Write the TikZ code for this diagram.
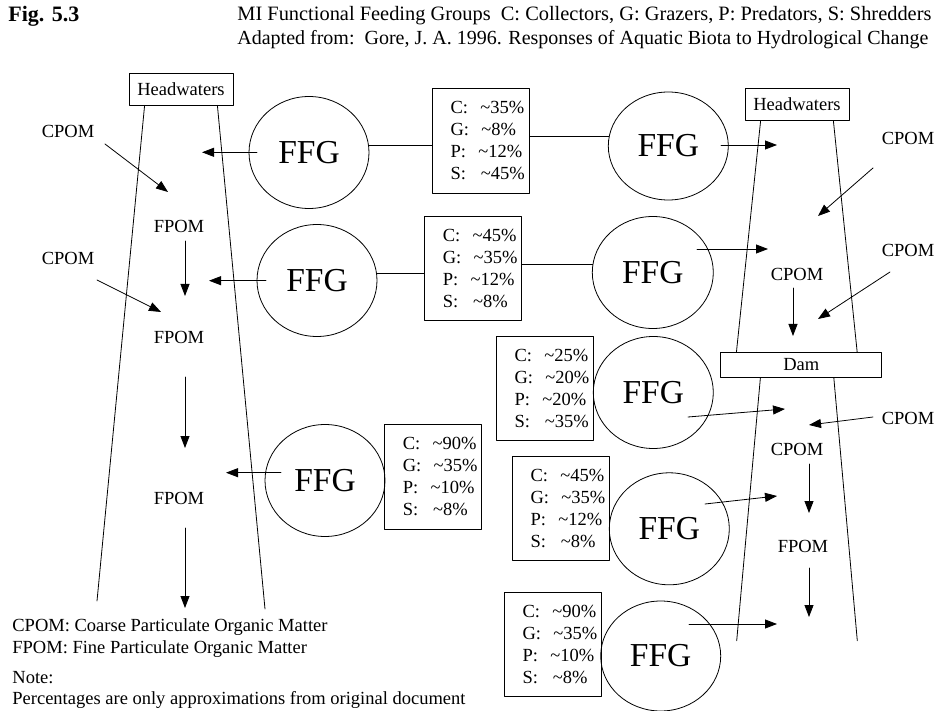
\documentclass[tikz,border=0pt]{standalone}
\usepackage{fontspec}
\setmainfont{Liberation Serif}
\usetikzlibrary{shapes.geometric,arrows.meta}
\usetikzlibrary{positioning}

\begin{document}
\begin{tikzpicture}[x=1pt,y=-1pt,line cap=round,line join=round,line width=0.8pt,
		>={Triangle[length=12pt,width=9pt]},
		every node/.style={font=\fontsize{18.5}{22}\selectfont},
		lbl/.style={inner sep=0pt},
		tag/.style={draw,inner sep=0pt,minimum height=32pt},
		ffg/.style={draw,ellipse,minimum width=120pt,minimum height=112pt,
			font=\fontsize{33.5}{38}\selectfont},
		pct/.style={draw,align=left,inner ysep=0pt,inner xsep=18pt,text width=61pt,minimum height=105pt},
		flow/.style={->}]
	\useasboundingbox (0,0) rectangle (943,711);
	% titolo
	\node[lbl,anchor=west,font=\fontsize{22}{26}\selectfont\bfseries] (fig) at (8,16) {Fig. 5.3};
	\node[lbl,anchor=west,font=\fontsize{20.4}{24}\selectfont] (tit1) at (237,16) {MI Functional Feeding Groups\ \ C: Collectors, G: Grazers, P: Predators, S: Shredders};
	\node[lbl,anchor=west,font=\fontsize{20}{24}\selectfont] (tit2) at (237,40) {Adapted from:\ \ Gore, J. A. 1996. Responses of Aquatic Biota to Hydrological Change};

	%% fiume naturale (sinistra)
	\node[tag,minimum width=104pt] (hwL) at (181,89) {Headwaters};
	\coordinate (bankLa) at (97,601);
	\coordinate (bankLb) at (265,609);
	\draw ([xshift=16pt]hwL.south west) -- (bankLa);
	\draw ([xshift=-16pt]hwL.south east) -- (bankLb);

	\node[lbl] (cpL1) at (68,131) {CPOM};
	\node[lbl] (fpL1) at (179,226) {FPOM};
	\node[lbl] (cpL2) at (68,258) {CPOM};
	\node[lbl] (fpL2) at (179,337) {FPOM};
	\node[lbl] (fpL3) at (179,498) {FPOM};
	\coordinate (a1) at (105,144); \coordinate (b1) at (168,192);
	\coordinate (a2) at (185,241); \coordinate (b2) at (185,296);
	\coordinate (a3) at (97,280);  \coordinate (b3) at (161,312);
	\coordinate (a4) at (185,377); \coordinate (b4) at (185,448);
	\coordinate (a5) at (185,528); \coordinate (b5) at (185,608);
	\draw[flow] (a1) -- (b1);
	\draw[flow] (a2) -- (b2);
	\draw[flow] (a3) -- (b3);
	\draw[flow] (a4) -- (b4);
	\draw[flow] (a5) -- (b5);

	\node[ffg] (ffgL1) at (309,152.5) {FFG};
	\node[ffg] (ffgL2) at (317,280.5) {FFG};
	\node[ffg] (ffgL3) at (325,480.5) {FFG};
	\coordinate (a6) at (257,152.3); \coordinate (b6) at (202,152.3);
	\coordinate (a7) at (266,280.7); \coordinate (b7) at (209,280.7);
	\coordinate (a8) at (281,472.7); \coordinate (b8) at (226,472.7);
	\draw[flow] (a6) -- (b6);
	\draw[flow] (a7) -- (b7);
	\draw[flow] (a8) -- (b8);

	% percentuali
	\node[pct] (box1) at (481,140.8) {C:~~\textasciitilde35\%\\G:~~\textasciitilde8\%\\P:~~\textasciitilde12\%\\S:~~\kern2.5pt\textasciitilde45\%};
	\node[pct,minimum height=104pt] (box2) at (473.3,268.7) {C:~~\textasciitilde45\%\\G:~~\textasciitilde35\%\\P:~~\textasciitilde12\%\\S:~~\kern2.5pt\textasciitilde8\%};
	\node[pct] (box3) at (433.3,476.8) {C:~~\textasciitilde90\%\\G:~~\textasciitilde35\%\\P:~~\textasciitilde10\%\\S:~~\kern2.5pt\textasciitilde8\%};

	%% fiume con diga (destra)
	\node[tag,minimum width=104pt] (hwR) at (797,104.5) {Headwaters};
	\node[tag,minimum width=161pt,minimum height=24.5pt] (dam) at (801.3,365) {Dam};
	\coordinate (bankRa) at (736.7,640.7);
	\coordinate (bankRb) at (857.3,640.7);
	\draw ([xshift=16pt]hwR.south west) -- ([xshift=16pt]dam.north west);
	\draw ([xshift=-16pt]hwR.south east) -- ([xshift=-25pt]dam.north east);
	\draw ([xshift=40pt]dam.south west) -- (bankRa);
	\draw ([xshift=-48.4pt]dam.south east) -- (bankRb);

	\node[ffg,minimum height=108pt] (ffgR1) at (668.3,146) {FFG};
	\node[ffg,minimum width=121pt] (ffgR2) at (652.8,272.5) {FFG};
	\node[ffg] (ffgR3) at (653.3,392.5) {FFG};
	\node[ffg] (ffgR4) at (669.3,528.8) {FFG};
	\node[ffg,minimum height=110pt] (ffgR5) at (660.7,656) {FFG};

	\node[pct,minimum height=104.7pt] (boxR3) at (545,388.3) {C:~~\textasciitilde25\%\\G:~~\textasciitilde20\%\\P:~~\textasciitilde20\%\\S:~~\kern2.5pt\textasciitilde35\%};
	\node[pct,minimum height=104pt] (boxR4) at (561,508.7) {C:~~\textasciitilde45\%\\G:~~\textasciitilde35\%\\P:~~\textasciitilde12\%\\S:~~\kern2.5pt\textasciitilde8\%};
	\node[pct,minimum height=104pt] (boxR5) at (553,644.7) {C:~~\textasciitilde90\%\\G:~~\textasciitilde35\%\\P:~~\textasciitilde10\%\\S:~~\kern2.5pt\textasciitilde8\%};

	% linee FFG - percentuali
	\draw (ffgL1.7) -- (ffgL1.7 -| box1.west);
	\draw (ffgR1.171) -- (ffgR1.171 -| box1.east);
	\draw (ffgL2.7) -- (ffgL2.7 -| box2.west);
	\draw (ffgR2.172) -- (ffgR2.172 -| box2.east);

	\node[lbl] (cpR1) at (908,138) {CPOM};
	\node[lbl] (cpR2) at (908,250) {CPOM};
	\node[lbl] (cpR3) at (797,274) {CPOM};
	\node[lbl] (cpR4) at (908,418) {CPOM};
	\node[lbl] (cpR5) at (797,449) {CPOM};
	\node[lbl] (fpR1) at (803,546) {FPOM};

	\coordinate (c1) at (721,145);  \coordinate (d1) at (777,145);
	\coordinate (c2) at (873,168);  \coordinate (d2) at (818,216);
	\coordinate (c3) at (697,249);  \coordinate (d3) at (768,249);
	\coordinate (c4) at (890,272);  \coordinate (d4) at (818,319);
	\coordinate (c5) at (793,288);  \coordinate (d5) at (793,336);
	\coordinate (c6) at (688,417);  \coordinate (d6) at (785,409);
	\coordinate (c7) at (873,417);  \coordinate (d7) at (809,425);
	\coordinate (c8) at (809,464);  \coordinate (d8) at (809,513);
	\coordinate (c9) at (809,568);  \coordinate (d9) at (809,617);
	\coordinate (c10) at (705,504); \coordinate (d10) at (777,496);
	\coordinate (c11) at (689,624); \coordinate (d11) at (777,624);
	\foreach \i in {1,...,11}
		\draw[flow] (c\i) -- (d\i);

	% legenda
	\node[lbl,anchor=west] (leg1) at (12,627) {CPOM: Coarse Particulate Organic Matter};
	\node[lbl,anchor=west] (leg2) at (12,649) {FPOM: Fine Particulate Organic Matter};
	\node[lbl,anchor=west] (note) at (12,678) {Note:};
	\node[lbl,anchor=west] (leg3) at (12,700) {Percentages are only approximations from original document};
\end{tikzpicture}
\end{document}
